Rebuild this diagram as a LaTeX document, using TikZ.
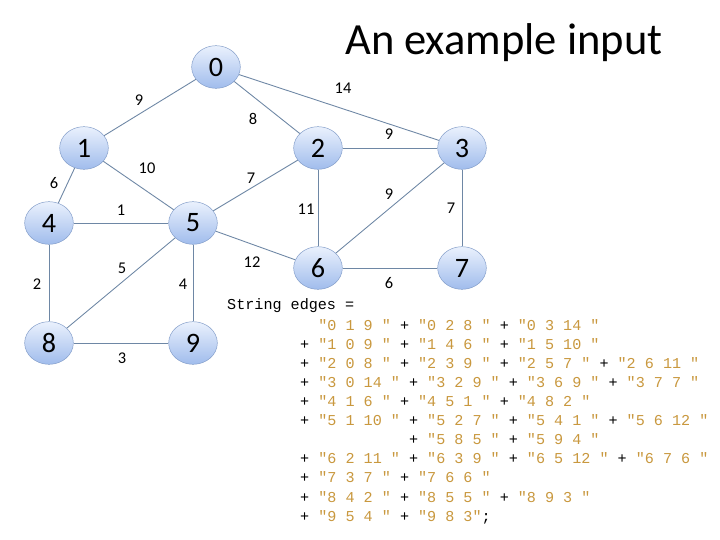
\documentclass[tikz,border=0pt]{standalone}
\usepackage{fontspec}
\setmainfont{Carlito}
\setmonofont{Liberation Mono}
\usepackage{xcolor}
\usetikzlibrary{shapes.geometric,backgrounds}

\definecolor{edgegray}{RGB}{110,135,165}
\definecolor{vborder}{RGB}{128,155,200}
\definecolor{vtop}{RGB}{234,241,253}
\definecolor{vbottom}{RGB}{160,188,236}
\definecolor{codestr}{RGB}{201,152,62}

\newcommand{\cstr}[1]{\textcolor{codestr}{#1}}

\begin{document}
\begin{tikzpicture}[
  x=0.03cm, y=-0.03cm,
  vertex/.style={
    ellipse,
    draw=vborder,
    top color=vtop,
    bottom color=vbottom,
    minimum width=1.46cm,
    minimum height=1.28cm,
    inner sep=0pt,
    font=\fontsize{24}{26}\selectfont
  },
  weight/.style={
    inner sep=0pt,
    font=\fontsize{14}{16}\selectfont
  },
  edge/.style={
    draw=edgegray,
    line width=0.75pt
  }
]
\path[use as bounding box] (0,0) rectangle (720,540);

%-----------------------------
% Title
%-----------------------------
\node[anchor=base west, inner sep=0pt, font=\fontsize{38}{42}\selectfont] (title) at (345,55) {An example input};

%-----------------------------
% Vertices
%-----------------------------
\node[vertex] (n0) at (216,67)  {0};
\node[vertex] (n1) at (84,148)  {1};
\node[vertex] (n2) at (318,148) {2};
\node[vertex] (n3) at (462,148) {3};
\node[vertex] (n4) at (49,223)  {4};
\node[vertex] (n5) at (193,223) {5};
\node[vertex] (n6) at (318,268) {6};
\node[vertex] (n7) at (462,268) {7};
\node[vertex] (n8) at (49,343)  {8};
\node[vertex] (n9) at (193,343) {9};

%-----------------------------
% Edges
%-----------------------------
\begin{pgfonlayer}{background}
\fill[white] (0,0) rectangle (720,540);
\draw[edge] (n0) -- (n1);
\draw[edge] (n0) -- (n2);
\draw[edge] (n0) -- (n3);
\draw[edge] (n1) -- (n4);
\draw[edge] (n1) -- (n5);
\draw[edge] (n2) -- (n3);
\draw[edge] (n2) -- (n5);
\draw[edge] (n2) -- (n6);
\draw[edge] (n3) -- (n6);
\draw[edge] (n3) -- (n7);
\draw[edge] (n4) -- (n5);
\draw[edge] (n4) -- (n8);
\draw[edge] (n5) -- (n6);
\draw[edge] (n5) -- (n8);
\draw[edge] (n5) -- (n9);
\draw[edge] (n6) -- (n7);
\draw[edge] (n8) -- (n9);
\end{pgfonlayer}

%-----------------------------
% Edge weights
%-----------------------------
\node[weight] (w01) at (139,100) {9};
\node[weight] (w02) at (253,119) {8};
\node[weight] (w03) at (343,88)  {14};
\node[weight] (w14) at (54,183)  {6};
\node[weight] (w15) at (147,168) {10};
\node[weight] (w23) at (389,134) {9};
\node[weight] (w25) at (251,178) {7};
\node[weight] (w26) at (306,209) {11};
\node[weight] (w36) at (389,194) {9};
\node[weight] (w37) at (451,208) {7};
\node[weight] (w45) at (121,210) {1};
\node[weight] (w48) at (37,284)  {2};
\node[weight] (w56) at (252,262) {12};
\node[weight] (w58) at (122,268) {5};
\node[weight] (w59) at (183,284) {4};
\node[weight] (w67) at (389,283) {6};
\node[weight] (w89) at (122,358) {3};

%-----------------------------
% Code listing
%-----------------------------
\node[anchor=west, inner sep=0pt, font=\ttfamily\fontsize{12.9}{16.3}\selectfont] (header) at (227,306) {String edges =};
\node[anchor=north west, inner sep=0pt, align=left, font=\ttfamily\fontsize{12.9}{16.3}\selectfont] (listing) at (300,319) {%
\phantom{+} \cstr{"0 1 9 "} + \cstr{"0 2 8 "} + \cstr{"0 3 14 "}\\
+ \cstr{"1 0 9 "} + \cstr{"1 4 6 "} + \cstr{"1 5 10 "}\\
+ \cstr{"2 0 8 "} + \cstr{"2 3 9 "} + \cstr{"2 5 7 "} + \cstr{"2 6 11 "}\\
+ \cstr{"3 0 14 "} + \cstr{"3 2 9 "} + \cstr{"3 6 9 "} + \cstr{"3 7 7 "}\\
+ \cstr{"4 1 6 "} + \cstr{"4 5 1 "} + \cstr{"4 8 2 "}\\
+ \cstr{"5 1 10 "} + \cstr{"5 2 7 "} + \cstr{"5 4 1 "} + \cstr{"5 6 12 "}\\
\phantom{+ "5 1 10 "} + \cstr{"5 8 5 "} + \cstr{"5 9 4 "}\\
+ \cstr{"6 2 11 "} + \cstr{"6 3 9 "} + \cstr{"6 5 12 "} + \cstr{"6 7 6 "}\\
+ \cstr{"7 3 7 "} + \cstr{"7 6 6 "}\\
+ \cstr{"8 4 2 "} + \cstr{"8 5 5 "} + \cstr{"8 9 3 "}\\
+ \cstr{"9 5 4 "} + \cstr{"9 8 3"};};

\end{tikzpicture}
\end{document}
